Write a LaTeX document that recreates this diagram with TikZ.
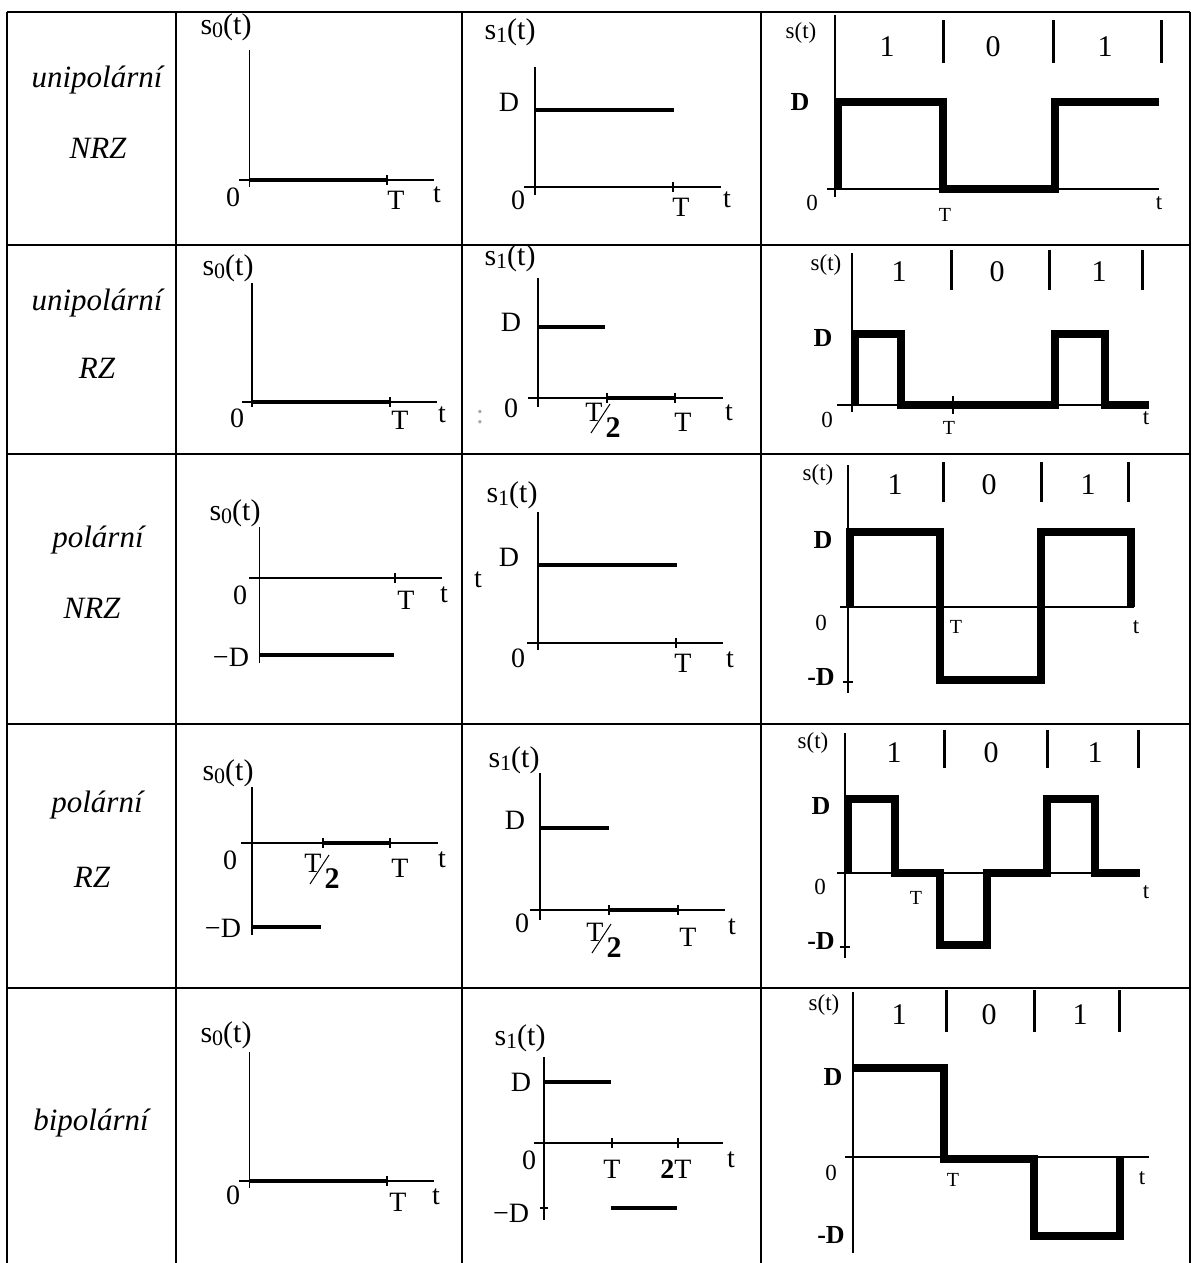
\documentclass[tikz,border=0pt]{standalone}
\usepackage{fontspec}
\setmainfont{Liberation Serif}
\newcommand{\szero}{s\raisebox{-1.5pt}{\fontsize{11}{11}\selectfont 0}(t)}
\newcommand{\sone}{s\raisebox{-1.5pt}{\fontsize{11}{11}\selectfont 1}(t)}
\newcommand{\halft}[3]{\begin{scope}[shift={(#2,#3)}]
  \node[lb] (#1T) at (0,0) {T};
  \node[lb,font=\fontsize{15}{15}\selectfont\bfseries] (#1two) at (19,16) {2};
  \draw[line width=0.5pt] (16,-8) -- (-3,21);
\end{scope}}
\begin{document}
\begin{tikzpicture}[x=0.5pt,y=-0.5pt,
  grid/.style={line width=1.3pt},
  ax/.style={line width=0.6pt},
  sg/.style={line width=2pt},
  wv/.style={line width=3.6pt,line join=miter},
  br/.style={line width=1.5pt},
  lb/.style={font=\fontsize{14}{14}\selectfont,inner sep=0pt},
  sx/.style={font=\fontsize{15}{15}\selectfont,inner sep=0pt},
  rl/.style={font=\fontsize{15.5}{15.5}\selectfont\itshape,inner sep=0pt},
  sl/.style={font=\fontsize{11.5}{11.5}\selectfont,inner sep=0pt},
  dg/.style={font=\fontsize{15}{15}\selectfont,inner sep=0pt},
  bd/.style={font=\fontsize{13}{13}\selectfont\bfseries,inner sep=0pt},
  tl/.style={font=\fontsize{10}{10}\selectfont,inner sep=0pt}]
\useasboundingbox (0,0) rectangle (1195,1263);
% table grid
\foreach \xx in {7,176,462,761,1190} \draw[grid] (\xx,12) -- (\xx,1263);
\foreach \yy in {12,245,454,724,988} \draw[grid] (7,\yy) -- (1190,\yy);

%================ ROW 1 =================
\node[rl] (r1a) at (97,80) {unipolární};
\node[rl] (r1b) at (98,148) {NRZ};
% s0
\node[sx] (r1s0) at (226,27) {\szero};
\draw[ax] (249.5,50) -- (249.5,187);
\draw[ax] (239,180) -- (434,180);
\draw[sg] (249.5,180) -- (387,180);
\draw[ax] (387,175) -- (387,185);
\node[lb] (r1s0z) at (233,197) {0};
\node[lb] (r1s0T) at (396,200) {T};
\node[lb] (r1s0t) at (437,195) {t};
% s1
\node[sx] (r1s1) at (510,32) {\sone};
\draw[ax] (535,67) -- (535,195);
\node[lb] (r1s1D) at (509,102) {D};
\draw[sg] (535,110) -- (674,110);
\draw[ax] (524,187) -- (721,187);
\draw[ax] (673,182) -- (673,192);
\node[lb] (r1s1z) at (518,200) {0};
\node[lb] (r1s1T) at (681,207) {T};
\node[lb] (r1s1t) at (727,200) {t};
% s(t)
\node[sl] (r1s) at (801,33) {s(t)};
\draw[ax] (835,15) -- (835,197);
\foreach \bx in {943,1053,1161} \draw[br] (\bx,20) -- (\bx,63);
\node[dg] (r1d1) at (887,47) {1};
\node[dg] (r1d2) at (993,47) {0};
\node[dg] (r1d3) at (1105,47) {1};
\node[bd] (r1D) at (800,102) {D};
\draw[ax] (827,189) -- (1159,189);
\draw[wv] (838,189) -- (838,102) -- (943,102) -- (943,189) -- (1055,189) -- (1055,102) -- (1159,102);
\node[sl] (r1z) at (812,203) {0};
\node[tl] (r1T) at (945,215) {T};
\node[sl] (r1t) at (1159,203) {t};

%================ ROW 2 =================
\node[rl] (r2a) at (97,303) {unipolární};
\node[rl] (r2b) at (97,368) {RZ};
% s0
\node[sx] (r2s0) at (228,268) {\szero};
\draw[ax] (252,283) -- (252,407);
\draw[ax] (242,402) -- (437,402);
\draw[sg] (252,402) -- (390,402);
\draw[ax] (390,397) -- (390,407);
\node[lb] (r2s0z) at (237,418) {0};
\node[lb] (r2s0T) at (400,420) {T};
\node[lb] (r2s0t) at (442,415) {t};
% s1
\node[sx] (r2s1) at (510,258) {\sone};
\draw[ax] (538,278) -- (538,407);
\node[lb] (r2s1D) at (511,322) {D};
\draw[sg] (538,327) -- (605,327);
\draw[ax] (528,398) -- (723,398);
\draw[sg] (607,398) -- (675,398);
\draw[ax] (607,393) -- (607,403);
\draw[ax] (675,393) -- (675,403);
\node[lb] (r2s1z) at (511,408) {0};
\halft{r2h}{594}{412}
\node[lb] (r2s1T) at (683,422) {T};
\node[lb] (r2s1t) at (729,413) {t};
\node[lb,text=black!35] (r2dots) at (480,417) {:};
% s(t)
\node[sl] (r2s) at (826,265) {s(t)};
\draw[ax] (852,253) -- (852,412);
\foreach \bx in {951,1049,1142} \draw[br] (\bx,250) -- (\bx,290);
\node[dg] (r2d1) at (899,272) {1};
\node[dg] (r2d2) at (997,272) {0};
\node[dg] (r2d3) at (1099,272) {1};
\node[bd] (r2D) at (823,338) {D};
\draw[ax] (837,405) -- (1149,405);
\draw[ax] (953,396) -- (953,414);
\draw[wv] (855,405) -- (855,334) -- (901,334) -- (901,405) -- (1055,405) -- (1055,334) -- (1105,334) -- (1105,405) -- (1149,405);
\node[sl] (r2z) at (827,420) {0};
\node[tl] (r2T) at (949,428) {T};
\node[sl] (r2t) at (1146,418) {t};

%================ ROW 3 =================
\node[rl] (r3a) at (98,540) {polární};
\node[rl] (r3b) at (92,608) {NRZ};
% s0
\node[sx] (r3s0) at (235,513) {\szero};
\draw[ax] (259.5,527) -- (259.5,663);
\draw[ax] (249,578) -- (442,578);
\draw[ax] (395,573) -- (395,583);
\draw[sg] (260,655) -- (394,655);
\node[lb] (r3s0z) at (240,595) {0};
\node[lb] (r3s0T) at (406,600) {T};
\node[lb] (r3s0t) at (444,595) {t};
\node[lb] (r3s0D) at (231,657) {\textminus D};
% s1
\node[sx] (r3s1) at (512,495) {\sone};
\draw[ax] (538,512) -- (538,650);
\node[lb] (r3s1D) at (509,557) {D};
\draw[sg] (538,565) -- (677,565);
\draw[ax] (527,643) -- (723,643);
\draw[ax] (676,638) -- (676,648);
\node[lb] (r3s1z) at (518,658) {0};
\node[lb] (r3s1T) at (683,663) {T};
\node[lb] (r3s1t) at (730,660) {t};
\node[lb] (r3x) at (478,580) {t};
% s(t)
\node[sl] (r3s) at (818,475) {s(t)};
\draw[ax] (848,465) -- (848,693);
\foreach \bx in {943,1041,1128} \draw[br] (\bx,462) -- (\bx,502);
\node[dg] (r3d1) at (895,485) {1};
\node[dg] (r3d2) at (989,485) {0};
\node[dg] (r3d3) at (1088,485) {1};
\node[bd] (r3D) at (823,540) {D};
\node[sl] (r3z) at (821,623) {0};
\node[bd] (r3mD) at (821,677) {-D};
\draw[ax] (843,682) -- (853,682);
\draw[ax] (840,607) -- (1134,607);
\draw[wv] (850,607) -- (850,532) -- (940,532) -- (940,680) -- (1041,680) -- (1041,532) -- (1131,532) -- (1131,607);
\node[tl] (r3T) at (956,627) {T};
\node[sl] (r3t) at (1136,627) {t};

%================ ROW 4 =================
\node[rl] (r4a) at (97,805) {polární};
\node[rl] (r4b) at (92,877) {RZ};
% s0
\node[sx] (r4s0) at (228,773) {\szero};
\draw[ax] (252,787) -- (252,935);
\draw[ax] (241,843) -- (438,843);
\draw[sg] (323,843) -- (390,843);
\draw[ax] (323,838) -- (323,848);
\draw[ax] (390,838) -- (390,848);
\draw[sg] (253,927) -- (321,927);
\node[lb] (r4s0z) at (230,860) {0};
\halft{r4h}{313}{863}
\node[lb] (r4s0T) at (400,868) {T};
\node[lb] (r4s0t) at (442,860) {t};
\node[lb] (r4s0D) at (223,928) {\textminus D};
% s1
\node[sx] (r4s1) at (514,760) {\sone};
\draw[ax] (540,773) -- (540,920);
\node[lb] (r4s1D) at (515,820) {D};
\draw[sg] (540,828) -- (609,828);
\draw[ax] (530,910) -- (725,910);
\draw[sg] (609,910) -- (678,910);
\draw[ax] (609,905) -- (609,915);
\draw[ax] (678,905) -- (678,915);
\node[lb] (r4s1z) at (522,923) {0};
\halft{r4k}{595}{932}
\node[lb] (r4s1T) at (688,937) {T};
\node[lb] (r4s1t) at (732,927) {t};
% s(t)
\node[sl] (r4s) at (813,743) {s(t)};
\draw[ax] (845,733) -- (845,958);
\foreach \bx in {944,1047,1138} \draw[br] (\bx,730) -- (\bx,768);
\node[dg] (r4d1) at (894,753) {1};
\node[dg] (r4d2) at (991,753) {0};
\node[dg] (r4d3) at (1095,753) {1};
\node[bd] (r4D) at (821,806) {D};
\node[sl] (r4z) at (820,887) {0};
\node[bd] (r4mD) at (821,941) {-D};
\draw[ax] (840,947) -- (850,947);
\draw[ax] (837,873) -- (1140,873);
\draw[wv] (848,873) -- (848,799) -- (895,799) -- (895,873) -- (940,873) -- (940,945) -- (987,945) -- (987,873) -- (1047,873) -- (1047,799) -- (1095,799) -- (1095,873) -- (1140,873);
\node[tl] (r4T) at (916,898) {T};
\node[sl] (r4t) at (1146,892) {t};

%================ ROW 5 =================
\node[rl] (r5a) at (91,1123) {bipolární};
% s0
\node[sx] (r5s0) at (226,1035) {\szero};
\draw[ax] (249.5,1052) -- (249.5,1188);
\draw[ax] (239,1181) -- (434,1181);
\draw[sg] (249.5,1181) -- (387,1181);
\draw[ax] (387,1176) -- (387,1186);
\node[lb] (r5s0z) at (233,1195) {0};
\node[lb] (r5s0T) at (398,1202) {T};
\node[lb] (r5s0t) at (436,1197) {t};
% s1
\node[sx] (r5s1) at (520,1038) {\sone};
\draw[ax] (544,1057) -- (544,1220);
\node[lb] (r5s1D) at (521,1082) {D};
\draw[sg] (544,1082) -- (611,1082);
\draw[ax] (534,1143) -- (723,1143);
\draw[ax] (612,1138) -- (612,1148);
\draw[ax] (678,1138) -- (678,1148);
\node[lb] (r5s1z) at (529,1160) {0};
\node[lb] (r5s1T) at (612,1169) {T};
\node[lb] (r5s1TT) at (676,1169) {\textbf{2}T};
\node[lb] (r5s1t) at (731,1160) {t};
\node[lb] (r5s1D2) at (511,1213) {\textminus D};
\draw[ax] (540,1208) -- (548,1208);
\draw[sg] (611,1208) -- (677,1208);
% s(t)
\node[sl] (r5s) at (824,1005) {s(t)};
\draw[ax] (853,992) -- (853,1253);
\foreach \bx in {946,1034,1119} \draw[br] (\bx,990) -- (\bx,1032);
\node[dg] (r5d1) at (899,1015) {1};
\node[dg] (r5d2) at (989,1015) {0};
\node[dg] (r5d3) at (1080,1015) {1};
\node[bd] (r5D) at (833,1077) {D};
\node[sl] (r5z) at (831,1173) {0};
\node[bd] (r5mD) at (831,1235) {-D};
\draw[ax] (845,1157) -- (1149,1157);
\draw[wv] (853,1068) -- (944,1068) -- (944,1159) -- (1034,1159) -- (1034,1236) -- (1120,1236) -- (1120,1157);
\node[tl] (r5T) at (953,1180) {T};
\node[sl] (r5t) at (1142,1178) {t};
\end{tikzpicture}
\end{document}
